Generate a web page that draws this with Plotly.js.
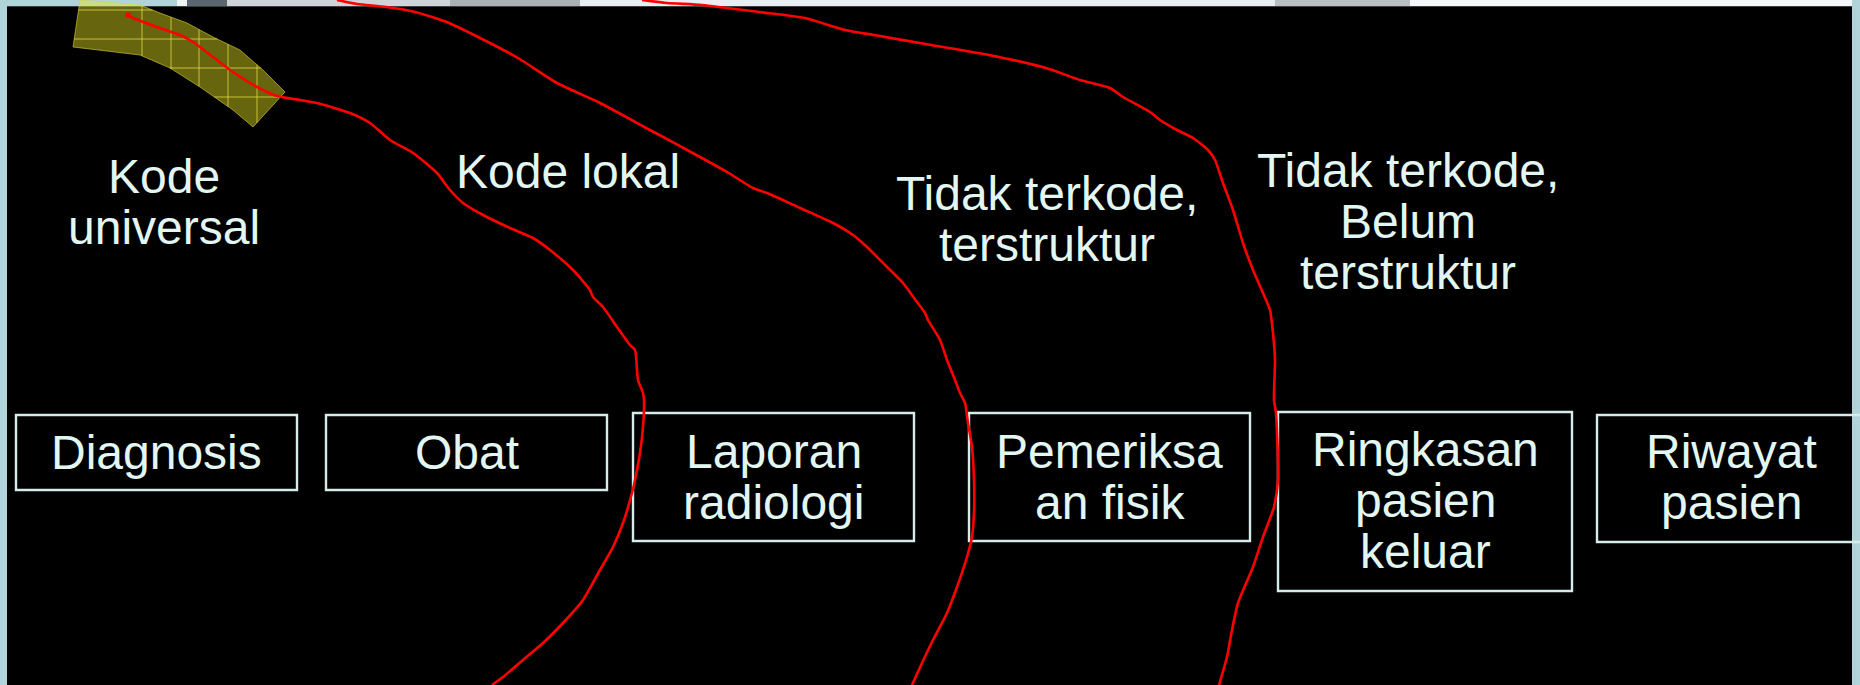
<!DOCTYPE html>
<html>
<head>
<meta charset="utf-8">
<script src="https://cdn.plot.ly/plotly-3.0.1.min.js"></script>
<style>html,body{margin:0;padding:0;background:#000;}#chart{width:1860px;height:685px;}</style>
</head>
<body>
<div id="chart"></div>
<script>
// ---- data ----
const headerLines = [['Kode','universal'],['Kode lokal'],['Tidak terkode,','terstruktur'],['Tidak terkode,','Belum','terstruktur']];
const headerX = [164, 568, 1047, 1408];
const headerY = [176, 171, 193, 170];

const boxLines = [['Diagnosis'],['Obat'],['Laporan','radiologi'],['Pemeriksa','an fisik'],['Ringkasan','pasien','keluar'],['Riwayat','pasien']];
const boxLeft = [16, 326, 633, 969, 1278, 1597];
const boxRight = [297, 607, 914, 1250, 1572, 1865];
const boxTop = [415, 415, 413, 413, 412, 415];
const boxBottom = [490, 490, 541, 541, 591, 542];
const boxTextY = [452, 452, 451, 451, 449, 451];
const lineStep = 51;

const curve1X = [128,133,157,180,193,213,233,257,277,300,317,350,370,390,413,437,450,463,483,510,533,550,573,590,593,603,617,630,635,638,643,644,643,640,635,632,623,613,600,583,563,543,523,503,492];
const curve1Y = [15,18,27,35,42,57,72,87,96,100,103,113,123,140,153,173,190,203,215,228,238,250,270,290,297,307,327,345,350,380,393,400,427,453,480,493,523,547,570,600,623,643,660,677,685];
const curve2X = [337,357,386,415,449,484,518,557,600,650,700,727,753,767,800,833,853,867,887,903,917,925,928,940,947,955,960,965,968,972,974,974,972,967,957,947,933,922,912];
const curve2Y = [0,4,7,12,23,40,58,83,103,130,157,172,188,193,208,223,235,247,267,283,302,313,320,340,360,380,393,403,423,447,480,513,537,557,587,613,640,663,685];
const curve3X = [642,667,702,759,805,845,874,931,989,1046,1080,1110,1123,1150,1160,1177,1193,1208,1215,1223,1233,1243,1253,1263,1270,1273,1275,1274,1276,1278,1274,1263,1253,1238,1232,1227,1219];
const curve3Y = [0,3,5,12,18,30,35,45,55,68,80,88,97,112,120,130,138,150,160,183,210,243,270,293,310,333,360,400,413,480,507,537,567,603,630,657,685];

const bandX = [80,140,160,187,213,240,263,285,253,233,200,170,140,100,73];
const bandY = [0,5,13,23,37,50,70,92,127,110,87,68,55,50,47];
const bandGridY = [10,39,68,97];
const bandGridX = [142,171,199,228,257];

// ---- styling ----
const TXT = '#e2f6f2';
const FONT = 'Liberation Sans, Arial, Helvetica, sans-serif';
const W = 1860, H = 685;

function clipLine(vertical, c) {
  // intersections of line with polygon
  const pts = [];
  const n = bandX.length;
  for (let i = 0; i < n; i++) {
    const x1 = bandX[i], y1 = bandY[i], x2 = bandX[(i+1)%n], y2 = bandY[(i+1)%n];
    const a1 = vertical ? x1 : y1, a2 = vertical ? x2 : y2;
    const b1 = vertical ? y1 : x1, b2 = vertical ? y2 : x2;
    if ((a1 <= c && a2 > c) || (a2 <= c && a1 > c)) {
      const t = (c - a1) / (a2 - a1);
      pts.push(b1 + t * (b2 - b1));
    }
  }
  pts.sort((a,b)=>a-b);
  const segs = [];
  for (let i = 0; i + 1 < pts.length; i += 2) segs.push([pts[i], pts[i+1]]);
  return segs;
}

const traces = [];
// yellow band
traces.push({x: bandX.concat([bandX[0]]), y: bandY.concat([bandY[0]]), mode:'lines', fill:'toself',
  fillcolor:'rgba(235,230,30,0.44)', line:{color:'rgba(220,215,60,0.6)', width:1}, hoverinfo:'skip', showlegend:false});
const gx = [], gy = [];
bandGridY.forEach(c => clipLine(false, c).forEach(s => { gx.push(s[0], s[1], null); gy.push(c, c, null); }));
bandGridX.forEach(c => clipLine(true, c).forEach(s => { gx.push(c, c, null); gy.push(s[0], s[1], null); }));
traces.push({x: gx, y: gy, mode:'lines', line:{color:'rgba(230,225,70,0.75)', width:1}, hoverinfo:'skip', showlegend:false});

// red curves
[[curve1X,curve1Y],[curve2X,curve2Y],[curve3X,curve3Y]].forEach(c => {
  traces.push({x:c[0], y:c[1], mode:'lines', line:{color:'#ff0000', width:2.6, shape:'spline', smoothing:0.6},
    hoverinfo:'skip', showlegend:false});
});
traces.push({x:[curve1X[0]], y:[curve1Y[0]], mode:'markers', marker:{color:'#ff0000', size:5, symbol:'square'}, hoverinfo:'skip', showlegend:false});

const shapes = [];
// frame strips
shapes.push({type:'rect', xref:'x', yref:'y', x0:0, x1:7, y0:0, y1:H, fillcolor:'#b0d4da', line:{width:0}, layer:'below'});
shapes.push({type:'rect', xref:'x', yref:'y', x0:1852, x1:W, y0:0, y1:H, fillcolor:'#b0d4da', line:{width:0}, layer:'below'});
const topStrip = [[0,177,'#b0d4da'],[177,187,'#eef4f4'],[187,227,'#5c6670'],[227,450,'#cfd4d8'],[450,580,'#aab0b4'],[580,1275,'#e8eef2'],[1275,1410,'#b8bec2'],[1410,1852,'#f4f8fa']];
topStrip.forEach(s => shapes.push({type:'rect', xref:'x', yref:'y', x0:s[0], x1:s[1], y0:0, y1:6, fillcolor:s[2], line:{width:0}, layer:'below'}));
shapes.push({type:'line', xref:'x', yref:'y', x0:7, x1:1852, y0:6.5, y1:6.5, line:{color:'#3a4046', width:1}, layer:'below'});

// boxes
for (let i = 0; i < boxLeft.length; i++) {
  shapes.push({type:'rect', xref:'x', yref:'y', x0:boxLeft[i], x1:boxRight[i], y0:boxTop[i], y1:boxBottom[i],
    line:{color:'#d6ece8', width:2.4}, fillcolor:'rgba(0,0,0,0)', layer:'below'});
}

const annotations = [];
function addText(t, x, y) {
  annotations.push({x:x, y:y, xref:'x', yref:'y', text:t, showarrow:false, xanchor:'center', yanchor:'middle',
    font:{family:FONT, size:48, color:TXT}});
}
headerLines.forEach((lines, i) => lines.forEach((t, j) => addText(t, headerX[i], headerY[i] + j * lineStep)));
boxLines.forEach((lines, i) => {
  const cx = i === boxLines.length - 1 ? 1731 : (boxLeft[i] + boxRight[i]) / 2;
  lines.forEach((t, j) => addText(t, cx, boxTextY[i] + j * lineStep));
});

const layout = {
  width: W, height: H,
  margin: {l:0, r:0, t:0, b:0},
  paper_bgcolor: '#000000', plot_bgcolor: '#000000',
  xaxis: {range:[0, W], visible:false, fixedrange:true},
  yaxis: {range:[H, 0], visible:false, fixedrange:true},
  shapes: shapes, annotations: annotations, showlegend:false
};
Plotly.newPlot('chart', traces, layout, {displayModeBar:false, staticPlot:true});
</script>
</body>
</html>
